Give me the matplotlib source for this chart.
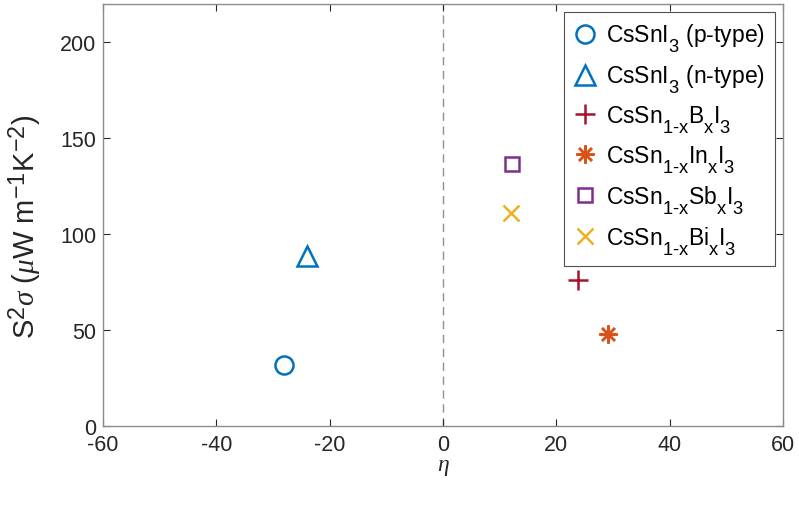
import matplotlib
matplotlib.use("Agg")
import matplotlib.pyplot as plt
try:
    import matplotlib._mathtext as _mt
    _mt.SHRINK_FACTOR = 0.8
    _mt.FontConstantsBase.sub1 = 0.95
    _mt.FontConstantsBase.subdrop = 0.6
except Exception:
    pass

plt.rcParams['font.family'] = ['Liberation Sans', 'DejaVu Sans']
plt.rcParams['axes.unicode_minus'] = False
plt.rcParams['mathtext.fontset'] = 'custom'
plt.rcParams['mathtext.rm'] = 'Liberation Sans'
plt.rcParams['mathtext.it'] = 'Liberation Serif:italic'
plt.rcParams['mathtext.bf'] = 'Liberation Sans:bold'

labels = [r'CsSnI$_3$ (p-type)', r'CsSnI$_3$ (n-type)',
          r'CsSn$_{1\text{-}\mathrm{x}}$B$_\mathrm{x}$I$_3$', r'CsSn$_{1\text{-}\mathrm{x}}$In$_\mathrm{x}$I$_3$',
          r'CsSn$_{1\text{-}\mathrm{x}}$Sb$_\mathrm{x}$I$_3$', r'CsSn$_{1\text{-}\mathrm{x}}$Bi$_\mathrm{x}$I$_3$']
eta = [-28, -24, 23.8, 29.2, 12.2, 12.0]
power = [32, 88.5, 76, 48, 136.5, 111]
markers = ['o', '^', '+', (8, 2, 0), 's', 'x']
colors = ['#0072BD', '#0072BD', '#A2142F', '#D95319', '#7E2F8E', '#EDB120']
msizes = [13, 14, 14, 13, 10, 11]

xticks = [-60, -40, -20, 0, 20, 40, 60]
yticks = [0, 50, 100, 150, 200]

fig = plt.figure(figsize=(7.99, 5.06), dpi=100)
ax = fig.add_axes([103/799, 1 - 427/506, 680/799, 422/506])

ax.axvline(0, color='#909090', lw=1, ls=(0, (6, 4)), zorder=1)
for i in range(len(eta)):
    ax.plot(eta[i], power[i], marker=markers[i], color=colors[i], ms=msizes[i],
            mew=1.8, mfc='none', ls='none', label=labels[i], zorder=3)

ax.set_xlim(-60, 60)
ax.set_ylim(0, 220)
ax.set_xticks(xticks)
ax.set_yticks(yticks)
ax.tick_params(direction='in', top=True, right=True, length=5, width=0.8,
               colors='#262626', labelsize=15.5, labelcolor='#262626', pad=5)
ax.tick_params(axis='x', pad=6)
for s in ax.spines.values():
    s.set_color('#8c8c8c')
    s.set_linewidth(1.0)

ax.set_xlabel(r'$\eta$', fontsize=17, color='#262626', labelpad=0)
ax.set_ylabel(r'S$^2$$\sigma$ ($\mu$W m$^{-1}$K$^{-2}$)', fontsize=21, color='#262626')
ax.yaxis.set_label_coords(-0.087, 0.475)

leg = ax.legend(loc='upper right', bbox_to_anchor=(775/799, 1 - 13/506), bbox_transform=fig.transFigure,
                fontsize=16.5, frameon=True, fancybox=False, edgecolor='#262626',
                handlelength=1.0, handletextpad=0.45, labelspacing=0.37, borderpad=0.42,
                borderaxespad=0, numpoints=1)
leg.get_frame().set_linewidth(0.8)

fig.savefig('out.png', dpi=100)
